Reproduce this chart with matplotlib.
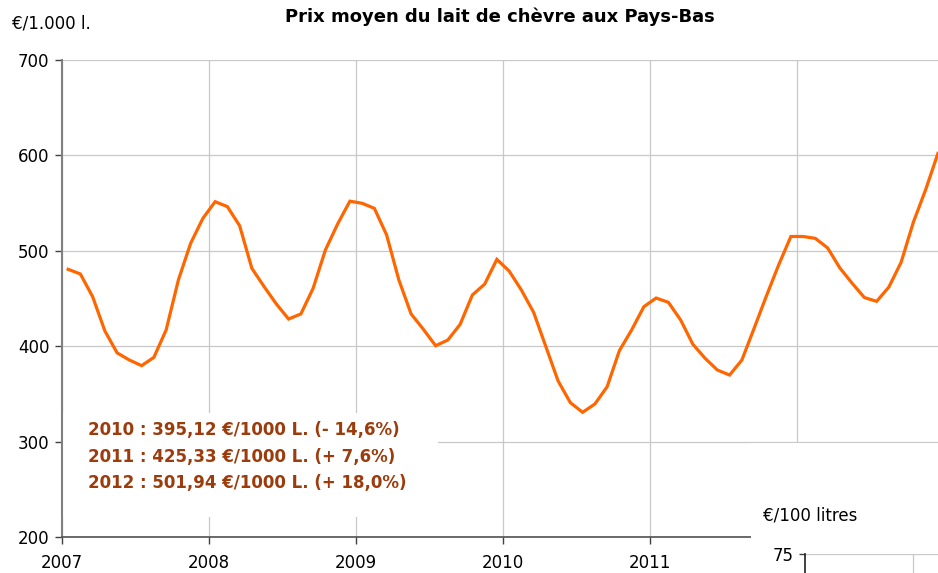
import matplotlib
matplotlib.use("Agg")
import matplotlib.pyplot as plt
from matplotlib.patches import Rectangle

plt.rcParams['font.family'] = ['DejaVu Sans']

# ---- data ----
years = [2007, 2008, 2009, 2010, 2011, 2012]
year_labels = ["2007", "2008", "2009", "2010", "2011", ""]
prix_2007 = [480.6, 475.7, 451.9, 416.0, 393.0, 385.5, 379.6, 388.3, 417.0, 469.4, 507.8, 534.0]
prix_2008 = [551.5, 546.3, 526.3, 481.6, 462.4, 444.2, 428.5, 433.8, 460.7, 500.8, 528.1, 552.0]
prix_2009 = [549.8, 544.5, 516.6, 469.4, 433.8, 417.7, 400.5, 406.5, 422.9, 453.7, 465.0, 491.0]
prix_2010 = [478.8, 458.9, 435.5, 399.5, 363.5, 340.8, 330.7, 339.4, 357.5, 395.3, 417.0, 441.4]
prix_2011 = [450.5, 446.0, 427.5, 402.0, 387.3, 375.0, 369.8, 385.5, 418.8, 452.6, 485.1, 515.0]
prix_2012 = [515.0, 513.0, 503.0, 482.0, 466.0, 451.0, 447.0, 462.0, 488.0, 530.0, 564.0, 602.0]
yticks = [200, 300, 400, 500, 600, 700]
annot_lines = [
    "2010 : 395,12 €/1000 L. (- 14,6%)",
    "2011 : 425,33 €/1000 L. (+ 7,6%)",
    "2012 : 501,94 €/1000 L. (+ 18,0%)",
]
title = "Prix moyen du lait de chèvre aux Pays-Bas"
ylabel = "€/1.000 l."
inset_label = "€/100 litres"
inset_ticks = [75]

series = [prix_2007, prix_2008, prix_2009, prix_2010, prix_2011, prix_2012]
xs, ys = [], []
for yr, vals in zip(years, series):
    for m, v in enumerate(vals):
        xs.append(yr + (m + 0.5) / 12)
        ys.append(v)

W, H = 938, 573
fig = plt.figure(figsize=(W / 100, H / 100), dpi=100)
fig.patch.set_facecolor('white')

L, R, T, B = 62, 938, 60, 537
ax = fig.add_axes([L / W, 1 - B / H, (R - L) / W, (B - T) / H])
ax.set_xlim(2007, 2007 + (R - L) / 147)
ax.set_ylim(200, 700)
ax.set_axisbelow(True)
ax.grid(True, color='#c8c8c8', linewidth=0.9)
ax.plot(xs, ys, color='#ff6600', linewidth=2.3, zorder=3, solid_joinstyle='miter')

ax.set_xticks(years)
ax.set_xticklabels(year_labels)
ax.set_yticks(yticks)
ax.set_yticklabels([str(v) for v in yticks])
ax.tick_params(axis='y', direction='out', length=5, width=1, color='#404040', pad=4, labelsize=12, labelcolor='black')
ax.tick_params(axis='x', direction='out', length=5, width=1, color='#404040', pad=7.5, labelsize=12, labelcolor='black')
for s in ['top', 'right']:
    ax.spines[s].set_visible(False)
ax.spines['left'].set_color('#808080')
ax.spines['left'].set_linewidth(1.5)
ax.spines['bottom'].set_color('#505050')
ax.spines['bottom'].set_linewidth(1.2)

# annotation box
ax.add_patch(Rectangle((1 / (R - L), (B - 517) / (B - T)), (437 - L) / (R - L), (517 - 413) / (B - T),
                       transform=ax.transAxes, facecolor='white', edgecolor='none', zorder=2))
for i, line in enumerate(annot_lines):
    ax.text((88 - L) / (R - L), (B - 430 - i * 26.7) / (B - T), line, transform=ax.transAxes,
            ha='left', va='center', fontsize=12, fontweight='bold', color='#9c3c0c', zorder=4)

# title and unit label
fig.text(500 / W, 1 - 17 / H, title, ha='center', va='center', fontsize=13, fontweight='bold')
fig.text(12 / W, 1 - 24 / H, ylabel, ha='left', va='center', fontsize=12)

# white cover for the overlapping second chart
fig.add_artist(Rectangle((751 / W, 0), 1 - 751 / W, (H - 443) / H, transform=fig.transFigure,
                         facecolor='white', edgecolor='none', zorder=1))

# second (partially visible) chart
ax2 = fig.add_axes([805 / W, -0.4, 1 - 805 / W, 0.4 + (H - 554) / H], zorder=2)
ax2.set_ylim(0, 75)
ax2.set_xlim(0, 1)
ax2.set_yticks(inset_ticks)
ax2.set_yticklabels([str(v) for v in inset_ticks])
ax2.set_xticks([108 / 133])
ax2.set_xticklabels([])
ax2.grid(True, color='#c8c8c8', linewidth=0.9)
ax2.tick_params(axis='y', direction='out', length=4, width=1, color='#404040', pad=4, labelsize=12)
ax2.tick_params(axis='x', length=0)
for s in ['top', 'right', 'bottom']:
    ax2.spines[s].set_visible(False)
ax2.spines['left'].set_color('#202020')
ax2.spines['left'].set_linewidth(1.2)
fig.text(763 / W, 1 - 515 / H, inset_label, ha='left', va='center', fontsize=12)

fig.savefig('out.png', dpi=100)
